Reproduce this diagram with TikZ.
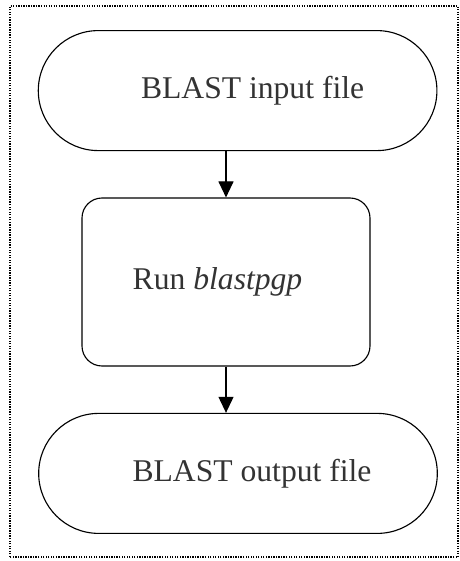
\documentclass[tikz,border=0pt]{standalone}
\usepackage{fontspec}
\setmainfont{Liberation Serif}
\usetikzlibrary{shapes.misc,arrows.meta}

\begin{document}
\begin{tikzpicture}[
    terminal/.style={rounded rectangle,draw,line width=0.8pt,minimum width=10.2cm,minimum height=3cm,font=\fontsize{22.5}{27}\selectfont,text=black!80},
    process/.style={rectangle,draw,rounded corners=0.5cm,line width=0.8pt,minimum width=7.2cm,minimum height=4.2cm,font=\fontsize{22.5}{27}\selectfont,text=black!80},
    flow/.style={-{Triangle[width=0.375cm,length=0.4cm]},line width=0.8pt}
]
    % Page frame (dotted)
    \useasboundingbox (0,0) rectangle (11.5,14.025);
    \draw[line width=0.9pt,dash pattern=on 0.9pt off 0.9pt] (0.25,0.1) rectangle (11.45,13.875);

    % Flowchart steps
    \node[terminal] (input) at (5.94,11.76) {\hspace*{0.75cm}BLAST input file};
    \node[process] (blast) at (5.65,6.975) {Run \textit{blastpgp}\hspace*{0.425cm}};
    \node[terminal] (output) at (5.95,2.19) {\hspace*{0.7cm}BLAST output file};

    % Arrows
    \draw[flow] (blast.north |- input.south) -- (blast.north);
    \draw[flow] (blast.south) -- (blast.south |- output.north);
\end{tikzpicture}
\end{document}
